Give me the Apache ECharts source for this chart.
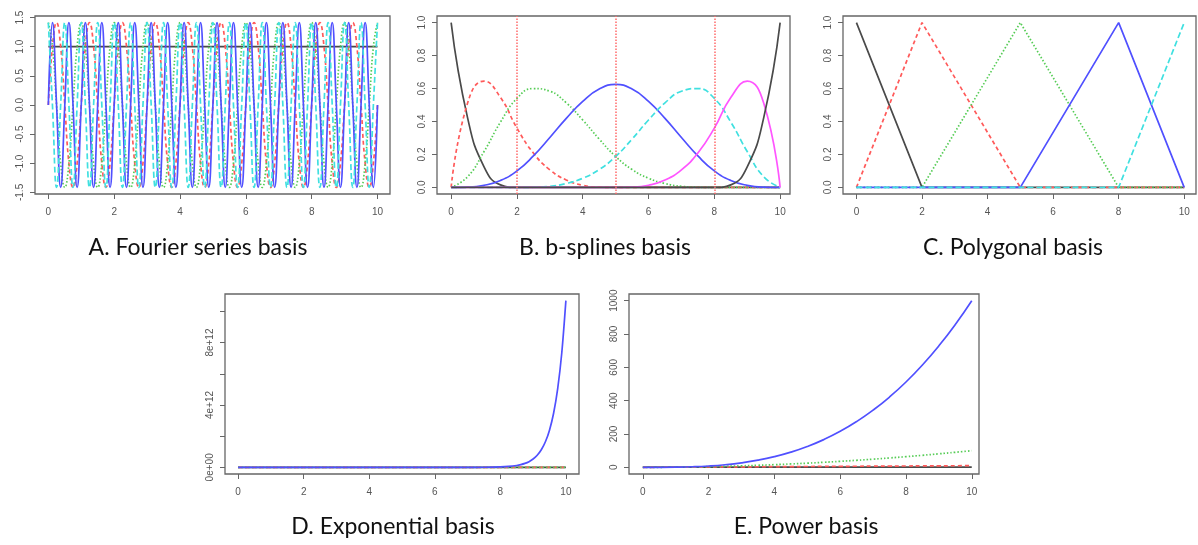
<!DOCTYPE html>
<html><head><meta charset="utf-8">
<script src="https://cdn.jsdelivr.net/npm/echarts@6/dist/echarts.min.js"></script>
<style>html,body{margin:0;padding:0;background:#fff}#c{width:1198px;height:545px}</style>
</head><body><div id="c"></div><script>
// ---------- DATA ----------
const xTickValues = [0, 2, 4, 6, 8, 10];

// A. Fourier series basis (period 1, 5 basis functions)
const fourierX = [
  0,0.125,0.25,0.375,0.5,0.625,0.75,0.875,
  1,1.125,1.25,1.375,1.5,1.625,1.75,1.875,
  2,2.125,2.25,2.375,2.5,2.625,2.75,2.875,
  3,3.125,3.25,3.375,3.5,3.625,3.75,3.875,
  4,4.125,4.25,4.375,4.5,4.625,4.75,4.875,
  5,5.125,5.25,5.375,5.5,5.625,5.75,5.875,
  6,6.125,6.25,6.375,6.5,6.625,6.75,6.875,
  7,7.125,7.25,7.375,7.5,7.625,7.75,7.875,
  8,8.125,8.25,8.375,8.5,8.625,8.75,8.875,
  9,9.125,9.25,9.375,9.5,9.625,9.75,9.875,
  10];
const fourierConstX = [0, 10];
const fourierConst = [1, 1];
const fourierSin1 = [
  0,1,1.414,1,0,-1,-1.414,-1, 0,1,1.414,1,0,-1,-1.414,-1,
  0,1,1.414,1,0,-1,-1.414,-1, 0,1,1.414,1,0,-1,-1.414,-1,
  0,1,1.414,1,0,-1,-1.414,-1, 0,1,1.414,1,0,-1,-1.414,-1,
  0,1,1.414,1,0,-1,-1.414,-1, 0,1,1.414,1,0,-1,-1.414,-1,
  0,1,1.414,1,0,-1,-1.414,-1, 0,1,1.414,1,0,-1,-1.414,-1,
  0];
const fourierCos1 = [
  1.414,1,0,-1,-1.414,-1,0,1, 1.414,1,0,-1,-1.414,-1,0,1,
  1.414,1,0,-1,-1.414,-1,0,1, 1.414,1,0,-1,-1.414,-1,0,1,
  1.414,1,0,-1,-1.414,-1,0,1, 1.414,1,0,-1,-1.414,-1,0,1,
  1.414,1,0,-1,-1.414,-1,0,1, 1.414,1,0,-1,-1.414,-1,0,1,
  1.414,1,0,-1,-1.414,-1,0,1, 1.414,1,0,-1,-1.414,-1,0,1,
  1.414];
const fourierSin2 = [
  0,1.414,0,-1.414,0,1.414,0,-1.414, 0,1.414,0,-1.414,0,1.414,0,-1.414,
  0,1.414,0,-1.414,0,1.414,0,-1.414, 0,1.414,0,-1.414,0,1.414,0,-1.414,
  0,1.414,0,-1.414,0,1.414,0,-1.414, 0,1.414,0,-1.414,0,1.414,0,-1.414,
  0,1.414,0,-1.414,0,1.414,0,-1.414, 0,1.414,0,-1.414,0,1.414,0,-1.414,
  0,1.414,0,-1.414,0,1.414,0,-1.414, 0,1.414,0,-1.414,0,1.414,0,-1.414,
  0];
const fourierCos2 = [
  1.414,0,-1.414,0,1.414,0,-1.414,0, 1.414,0,-1.414,0,1.414,0,-1.414,0,
  1.414,0,-1.414,0,1.414,0,-1.414,0, 1.414,0,-1.414,0,1.414,0,-1.414,0,
  1.414,0,-1.414,0,1.414,0,-1.414,0, 1.414,0,-1.414,0,1.414,0,-1.414,0,
  1.414,0,-1.414,0,1.414,0,-1.414,0, 1.414,0,-1.414,0,1.414,0,-1.414,0,
  1.414,0,-1.414,0,1.414,0,-1.414,0, 1.414,0,-1.414,0,1.414,0,-1.414,0,
  1.414];
const fourierYTicks = [-1.5, -1, -0.5, 0, 0.5, 1, 1.5];

// B. b-splines basis (knots 0,2,5,8,10; order 4)
const bsplineX = [0,0.5,1,1.5,2,2.5,3,3.5,4,4.5,5,5.5,6,6.5,7,7.5,8,8.5,9,9.5,10];
const bspline1 = [1,0.4219,0.125,0.0156,0,0,0,0,0,0,0,0,0,0,0,0,0,0,0,0,0];
const bspline2 = [0,0.5119,0.645,0.5456,0.36,0.2083,0.1067,0.045,0.0133,0.0017,0,0,0,0,0,0,0,0,0,0,0];
const bspline3 = [0,0.0647,0.2175,0.3966,0.54,0.5998,0.5836,0.5128,0.4089,0.2933,0.1875,0.1085,0.0556,0.0234,0.0069,0.0009,0,0,0,0,0];
const bspline4 = [0,0.0016,0.0125,0.0422,0.1,0.191,0.3028,0.4188,0.5222,0.5965,0.625,0.5965,0.5222,0.4188,0.3028,0.191,0.1,0.0422,0.0125,0.0016,0];
const bspline5 = [0,0,0,0,0,0.0009,0.0069,0.0234,0.0556,0.1085,0.1875,0.2933,0.4089,0.5128,0.5836,0.5998,0.54,0.3966,0.2175,0.0647,0];
const bspline6 = [0,0,0,0,0,0,0,0,0,0,0,0.0017,0.0133,0.045,0.1067,0.2083,0.36,0.5456,0.645,0.5119,0];
const bspline7 = [0,0,0,0,0,0,0,0,0,0,0,0,0,0,0,0,0,0.0156,0.125,0.4219,1];
const bsplineKnots = [2, 5, 8];
const unitYTicks = [0, 0.2, 0.4, 0.6, 0.8, 1];

// C. Polygonal basis
const polyX = [0, 2, 5, 8, 10];
const poly1 = [1, 0, 0, 0, 0];
const poly2 = [0, 1, 0, 0, 0];
const poly3 = [0, 0, 1, 0, 0];
const poly4 = [0, 0, 0, 1, 0];
const poly5 = [0, 0, 0, 0, 1];

// D. Exponential basis
const expLowX = [0, 2, 4, 6, 8, 10];
const exp0 = [1, 1, 1, 1, 1, 1];
const exp1 = [1, 7.39, 54.6, 403.4, 2981, 22026];
const exp2 = [1, 54.6, 2981, 162755, 8.886e6, 4.852e8];
const exp3X = [0,1,2,3,4,5,6,7,7.5,8,8.25,8.5,8.625,8.75,8.875,9,9.125,9.25,9.375,9.5,9.625,9.75,9.875,10];
const exp3 = [1,20.09,403.4,8103,162755,3.269e6,6.566e7,1.319e9,5.91e9,2.649e10,5.608e10,1.187e11,1.727e11,2.513e11,3.657e11,5.32e11,7.741e11,1.126e12,1.639e12,2.384e12,3.469e12,5.048e12,7.345e12,1.0686e13];
const expYTicks = [0, 2e12, 4e12, 6e12, 8e12, 1e13];
const expYLabels = [0, 4e12, 8e12];

// E. Power basis
const powX = [0,0.5,1,1.5,2,2.5,3,3.5,4,4.5,5,5.5,6,6.5,7,7.5,8,8.5,9,9.5,10];
const pow0 = [1,1,1,1,1,1,1,1,1,1,1,1,1,1,1,1,1,1,1,1,1];
const pow1 = [0,0.5,1,1.5,2,2.5,3,3.5,4,4.5,5,5.5,6,6.5,7,7.5,8,8.5,9,9.5,10];
const pow2 = [0,0.25,1,2.25,4,6.25,9,12.25,16,20.25,25,30.25,36,42.25,49,56.25,64,72.25,81,90.25,100];
const pow3 = [0,0.125,1,3.375,8,15.625,27,42.875,64,91.125,125,166.375,216,274.625,343,421.875,512,614.125,729,857.375,1000];
const powYTicks = [0, 200, 400, 600, 800, 1000];

const panelTitles = ['A. Fourier series basis', 'B. b-splines basis', 'C. Polygonal basis', 'D. Exponential basis', 'E. Power basis'];

// ---------- STYLE ----------
const COL = { k: '#4a4a4a', r: '#ff5a5a', g: '#55cc55', b: '#5050ff', c: '#40e0e0', m: '#ff55ff' };
const LT = { solid: 'solid', dashed: [4, 3], dotted: [1.5, 2], longdash: [6, 3] };
const labelFont = 'Liberation Sans, Arial, sans-serif';

const grids = [
  { left: 35, top: 16, width: 355, height: 178 },
  { left: 437, top: 16, width: 353, height: 178 },
  { left: 843, top: 16, width: 353, height: 178 },
  { left: 225, top: 294, width: 354, height: 180 },
  { left: 629, top: 294, width: 350, height: 180 }
].map(g => Object.assign({ show: true, borderColor: '#666', borderWidth: 1.3, backgroundColor: '#fff' }, g));

const xRanges = [[-0.405, 10.38], [-0.43, 10.3], [-0.41, 10.36], [-0.4, 10.4], [-0.42, 10.22]];

function xAxisFor(i) {
  return {
    type: 'value', gridIndex: i, min: xRanges[i][0], max: xRanges[i][1],
    axisLine: { show: false, onZero: false }, splitLine: { show: false },
    axisTick: { show: true, length: 5, lineStyle: { color: '#666' }, customValues: xTickValues },
    axisLabel: { customValues: xTickValues, color: '#555', fontSize: 10, margin: 13, fontFamily: labelFont }
  };
}
function yAxisFor(i, min, max, ticks, labels, fmt) {
  return {
    type: 'value', gridIndex: i, min, max,
    axisLine: { show: false, onZero: false }, splitLine: { show: false },
    axisTick: { show: true, length: 5, lineStyle: { color: '#666' }, customValues: ticks },
    axisLabel: { customValues: labels, color: '#555', fontSize: 10, margin: 10, rotate: 90, fontFamily: labelFont, formatter: fmt }
  };
}
function zip(xs, ys) { return xs.map((x, i) => [x, ys[i]]); }
function line(gi, xs, ys, color, type, extra) {
  return Object.assign({
    type: 'line', xAxisIndex: gi, yAxisIndex: gi, data: zip(xs, ys),
    showSymbol: false, symbol: 'none', smooth: true, silent: true, animation: false,
    lineStyle: { color, width: 1.7, type }
  }, extra || {});
}

const series = [
  line(0, fourierConstX, fourierConst, COL.k, LT.solid, { smooth: false }),
  line(0, fourierX, fourierSin1, COL.r, LT.dashed),
  line(0, fourierX, fourierCos1, COL.g, LT.dotted),
  line(0, fourierX, fourierSin2, COL.b, LT.solid),
  line(0, fourierX, fourierCos2, COL.c, LT.longdash),

  line(1, bsplineX, bspline1, COL.k, LT.solid),
  line(1, bsplineX, bspline2, COL.r, LT.dashed),
  line(1, bsplineX, bspline3, COL.g, LT.dotted),
  line(1, bsplineX, bspline4, COL.b, LT.solid),
  line(1, bsplineX, bspline5, COL.c, LT.longdash),
  line(1, bsplineX, bspline6, COL.m, LT.solid),
  line(1, bsplineX, bspline7, COL.k, LT.solid, {
    markLine: {
      silent: true, symbol: 'none', animation: false, label: { show: false },
      lineStyle: { color: '#ff6b6b', type: [1.5, 1.5], width: 1.5 },
      data: bsplineKnots.map(k => ({ xAxis: k }))
    }
  }),

  line(2, polyX, poly1, COL.k, LT.solid, { smooth: false }),
  line(2, polyX, poly2, COL.r, LT.dashed, { smooth: false }),
  line(2, polyX, poly3, COL.g, LT.dotted, { smooth: false }),
  line(2, polyX, poly4, COL.b, LT.solid, { smooth: false }),
  line(2, polyX, poly5, COL.c, LT.longdash, { smooth: false }),

  line(3, expLowX, exp0, COL.k, LT.solid, { smooth: false }),
  line(3, expLowX, exp1, COL.r, LT.dashed, { smooth: false }),
  line(3, expLowX, exp2, COL.g, LT.dotted, { smooth: false }),
  line(3, exp3X, exp3, COL.b, LT.solid, { smooth: 0.3 }),

  line(4, powX, pow0, COL.k, LT.solid),
  line(4, powX, pow1, COL.r, LT.dashed),
  line(4, powX, pow2, COL.g, LT.dotted),
  line(4, powX, pow3, COL.b, LT.solid)
];

const titleFont = '23px Lato, "Open Sans", sans-serif';
const titlePos = [[198, 248], [605, 248], [1013, 248], [393, 527], [806, 527]];

const option = {
  backgroundColor: '#fff',
  animation: false,
  grid: grids,
  xAxis: [0, 1, 2, 3, 4].map(xAxisFor),
  yAxis: [
    yAxisFor(0, -1.527, 1.527, fourierYTicks, fourierYTicks, v => v.toFixed(1)),
    yAxisFor(1, -0.04, 1.04, unitYTicks, unitYTicks, v => v.toFixed(1)),
    yAxisFor(2, -0.04, 1.04, unitYTicks, unitYTicks, v => v.toFixed(1)),
    yAxisFor(3, -4.27e11, 1.1113e13, expYTicks, expYLabels, v => v === 0 ? '0e+00' : Math.round(v / 1e12) + 'e+12'),
    yAxisFor(4, -40, 1040, powYTicks, powYTicks, v => String(v))
  ],
  series,
  graphic: panelTitles.map((t, i) => ({
    type: 'text', x: titlePos[i][0], y: titlePos[i][1], silent: true,
    style: { text: t, font: titleFont, fill: '#111', textAlign: 'center', textVerticalAlign: 'middle' }
  }))
};

const chart = echarts.init(document.getElementById('c'), null, { renderer: 'canvas' });
chart.setOption(option);
</script></body></html>
